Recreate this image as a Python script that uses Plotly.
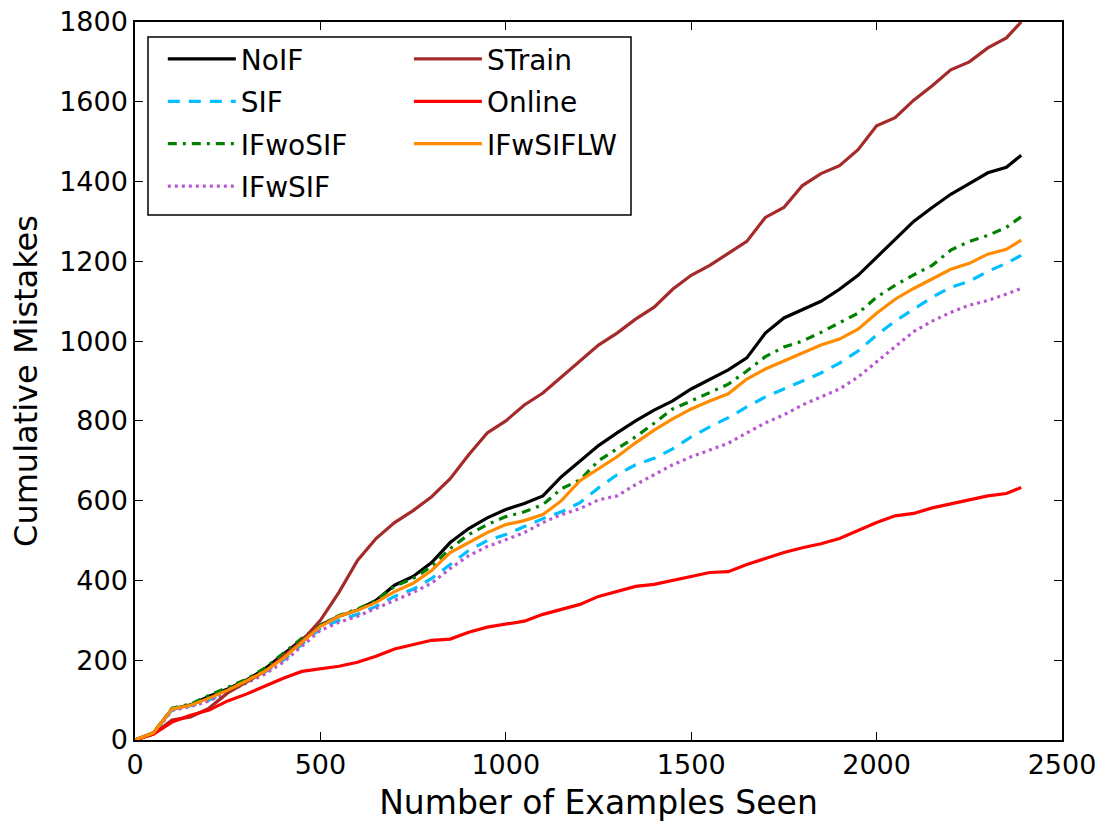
import plotly.graph_objects as go

examples_seen = [0, 50, 100, 150, 200, 250, 300, 350, 400, 450, 500, 550, 600, 650, 700, 750,
                 800, 850, 900, 950, 1000, 1050, 1100, 1150, 1200, 1250, 1300, 1350, 1400, 1450,
                 1500, 1550, 1600, 1650, 1700, 1750, 1800, 1850, 1900, 1950, 2000, 2050, 2100,
                 2150, 2200, 2250, 2300, 2350, 2390]

noif = [0, 18, 78, 88, 110, 128, 150, 178, 215, 252, 288, 310, 326, 350, 388, 410, 445, 495, 530,
        557, 578, 593, 612, 660, 700, 738, 770, 800, 827, 850, 880, 905, 928, 958, 1020, 1058,
        1080, 1100, 1130, 1165, 1210, 1255, 1300, 1335, 1368, 1395, 1422, 1436, 1466]
sif = [0, 16, 76, 86, 100, 122, 145, 170, 200, 240, 280, 300, 315, 335, 360, 378, 405, 440, 475,
       500, 515, 535, 555, 572, 595, 632, 665, 690, 706, 730, 760, 785, 808, 835, 860, 880, 900,
       920, 945, 975, 1015, 1050, 1080, 1110, 1135, 1150, 1175, 1195, 1215]
ifwosif = [0, 18, 80, 90, 112, 132, 152, 180, 218, 255, 288, 312, 328, 350, 385, 405, 435, 480,
           515, 540, 560, 572, 590, 630, 652, 700, 730, 760, 794, 830, 850, 872, 892, 925, 961,
           985, 1000, 1022, 1045, 1070, 1110, 1140, 1166, 1190, 1228, 1250, 1265, 1285, 1312]
ifwsif = [0, 15, 74, 84, 98, 120, 142, 165, 195, 235, 275, 295, 310, 330, 350, 370, 393, 430, 462,
          485, 502, 520, 545, 565, 580, 602, 612, 640, 665, 690, 710, 728, 744, 770, 795, 815,
          840, 860, 880, 910, 948, 985, 1024, 1050, 1072, 1090, 1102, 1118, 1132]
strain = [0, 15, 50, 58, 80, 118, 145, 172, 210, 248, 300, 370, 450, 505, 545, 575, 610, 655, 715,
          770, 800, 840, 870, 910, 950, 990, 1020, 1055, 1085, 1130, 1165, 1190, 1220, 1250, 1310,
          1335, 1390, 1420, 1440, 1480, 1540, 1560, 1604, 1640, 1680, 1700, 1735, 1760, 1800]
online = [0, 15, 45, 62, 75, 98, 115, 135, 155, 172, 178, 185, 195, 210, 228, 240, 250, 253, 270,
          283, 290, 298, 315, 328, 340, 360, 372, 385, 390, 400, 410, 420, 422, 440, 455, 470,
          482, 492, 505, 525, 545, 562, 568, 582, 592, 603, 612, 618, 633]
ifwsiflw = [0, 18, 78, 87, 105, 125, 148, 172, 205, 245, 285, 310, 325, 345, 372, 393, 425, 470,
            495, 520, 540, 550, 565, 600, 650, 680, 710, 745, 777, 805, 830, 850, 868, 905, 930,
            950, 970, 990, 1005, 1030, 1070, 1105, 1132, 1155, 1180, 1195, 1218, 1230, 1253]

x_ticks = [0, 500, 1000, 1500, 2000, 2500]
y_ticks = [0, 200, 400, 600, 800, 1000, 1200, 1400, 1600, 1800]

series = [
    ("NoIF", noif, "#000000", "solid", "legend"),
    ("SIF", sif, "#00BFFF", "12px,9px", "legend"),
    ("IFwoSIF", ifwosif, "#008000", "9px,6px,3px,6px", "legend"),
    ("IFwSIF", ifwsif, "#BA55D3", "3px,4px", "legend"),
    ("STrain", strain, "#A52A2A", "solid", "legend2"),
    ("Online", online, "#FF0000", "solid", "legend2"),
    ("IFwSIFLW", ifwsiflw, "#FF8C00", "solid", "legend2"),
]

fig = go.Figure()
for name, ys, color, dash, leg in series:
    fig.add_trace(go.Scatter(
        x=examples_seen, y=ys, mode="lines", name=name,
        line=dict(color=color, width=3.2, dash=dash),
        legend=leg, legendgroup=name,
    ))

tickfont = dict(family="DejaVu Sans", size=27, color="black")
legfont = dict(family="DejaVu Sans", size=28, color="black")

fig.update_layout(
    width=1111, height=822,
    margin=dict(l=135, r=49, t=22, b=82, autoexpand=False),
    paper_bgcolor="white", plot_bgcolor="white",
    font=dict(family="DejaVu Sans", color="black"),
    xaxis=dict(
        range=[0, 2500], tickvals=x_ticks, ticktext=[str(v) for v in x_ticks],
        showgrid=False, zeroline=False, showline=True, linecolor="black", linewidth=1.5,
        mirror="allticks", ticks="inside", ticklen=8, tickwidth=1, tickcolor="black",
        tickfont=tickfont, automargin=False,
        title=dict(text="Number of Examples Seen", font=dict(family="DejaVu Sans", size=33), standoff=12),
    ),
    yaxis=dict(
        range=[0, 1800], tickvals=y_ticks, ticktext=[str(v) for v in y_ticks],
        showgrid=False, zeroline=False, showline=True, linecolor="black", linewidth=1.5,
        mirror="allticks", ticks="inside", ticklen=8, tickwidth=1, tickcolor="black",
        tickfont=tickfont, automargin=False,
        title=dict(text="Cumulative Mistakes", font=dict(family="DejaVu Sans", size=32), standoff=12),
    ),
    legend=dict(
        x=0.030, y=0.983, xanchor="left", yanchor="top",
        bgcolor="rgba(0,0,0,0)", borderwidth=0, font=legfont,
        tracegroupgap=3, itemwidth=68,
    ),
    legend2=dict(
        x=0.2955, y=0.983, xanchor="left", yanchor="top",
        bgcolor="rgba(0,0,0,0)", borderwidth=0, font=legfont,
        tracegroupgap=3, itemwidth=68,
    ),
    shapes=[dict(
        type="rect", xref="paper", yref="paper",
        x0=(148 - 135) / 927, x1=(631 - 135) / 927,
        y0=(740 - 215) / 718, y1=(740 - 37) / 718,
        line=dict(color="black", width=1.5), fillcolor="rgba(0,0,0,0)", layer="above",
    )],
)

fig.write_html("out.html")
